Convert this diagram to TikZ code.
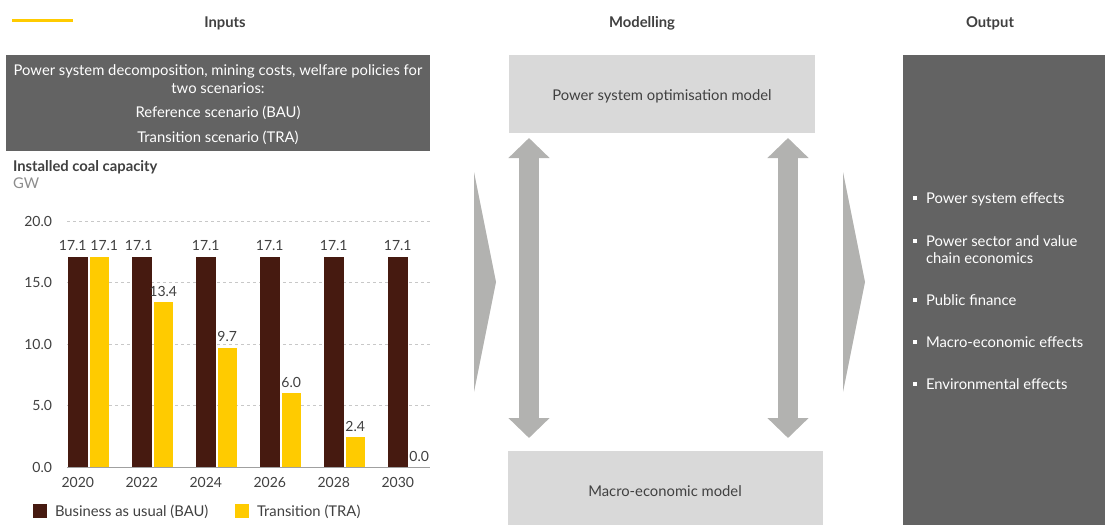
\documentclass[tikz,border=0pt]{standalone}
\usepackage{fontspec}
\setmainfont{Lato}
\usetikzlibrary{arrows.meta,calc}
\definecolor{darkbox}{HTML}{636363}
\definecolor{lightbox}{HTML}{D9D9D9}
\definecolor{arrowgrey}{HTML}{B2B2B0}
\definecolor{txt}{HTML}{404040}
\definecolor{unitc}{HTML}{8C8C8C}
\definecolor{bau}{HTML}{461A10}
\definecolor{tra}{HTML}{FFCB00}
\definecolor{gridc}{HTML}{C8C8C8}
\definecolor{axisc}{HTML}{A0A0A0}
\begin{document}
\begin{tikzpicture}[x=1pt,y=-1pt,
  every node/.style={inner sep=0pt, outer sep=0pt, font=\fontsize{14.8}{17}\selectfont},
  header/.style={anchor=base, text=txt, font=\fontsize{14.8}{17}\selectfont\bfseries},
  boxtxt/.style={anchor=base, text=white},
  outtxt/.style={anchor=base west, text=white},
  num/.style={anchor=base, text=txt, font=\fontsize{14}{16}\selectfont},
  dbl/.style={draw=arrowgrey, line width=20pt, {Triangle[width=40pt,length=20pt]}-{Triangle[width=40pt,length=20pt]}},
  chev/.style={fill=arrowgrey}]
\useasboundingbox (0,0) rectangle (1105,525);

% top line and headers
\draw[tra, line width=3pt] (12,20) -- (73,20);
\node[header] (hin) at (225,27) {Inputs};
\node[header] (hmod) at (642,27) {Modelling};
\node[header] (hout) at (990,27) {Output};

% input box
\node[fill=darkbox, minimum width=424pt, minimum height=96pt, anchor=north west] (inbox) at (6,55) {};
\node[boxtxt] (in1) at (218,75) {Power system decomposition, mining costs, welfare policies for};
\node[boxtxt] (in2) at (218,93) {two scenarios:};
\node[boxtxt] (in3) at (218,117) {Reference scenario (BAU)};
\node[boxtxt] (in4) at (218,142) {Transition scenario (TRA)};

% chart title
\node[anchor=base west, text=txt, font=\fontsize{14.8}{17}\selectfont\bfseries] (ctitle) at (13,171) {Installed coal capacity};
\node[anchor=base west, text=unitc] (cunit) at (13,188) {GW};

% grid
\foreach \v in {5,10,15,20}{
  \draw[gridc, dashed, line width=0.6pt] (67,467-\v*12.3) -- (430,467-\v*12.3);
}
\foreach \v/\l in {0/0.0,5/5.0,10/10.0,15/15.0,20/20.0}{
  \node[num, anchor=base east] at (52,467-\v*12.3+5) {\l};
}

% bars
\foreach \k/\yr/\t/\tl/\bo/\to in {0/2020/17.1/17.1/-5/5, 1/2022/13.4/13.4/-3/0, 2/2024/9.7/9.7/0/0, 3/2026/6.0/6.0/0/0, 4/2028/2.4/2.4/0/0, 5/2030/0.0/0.0/0/0}{
  \fill[bau] (68+64*\k,467) rectangle (87.5+64*\k,467-17.1*12.3);
  \fill[tra] (89.5+64*\k,467) rectangle (109+64*\k,467-\t*12.3);
  \node[num] at (77.75+64*\k+\bo,467-17.1*12.3-6) {17.1};
  \node[num] at (99.25+64*\k+\to,467-\t*12.3-6) {\tl};
  \node[num] at (77.75+64*\k,487) {\yr};
}
\draw[axisc, line width=1pt] (67,467) -- (430,467);

% legend
\fill[bau] (33,504) rectangle (47,518);
\node[anchor=base west, text=txt] (lg1) at (55,516) {Business as usual (BAU)};
\fill[tra] (235,504) rectangle (249,518);
\node[anchor=base west, text=txt] (lg2) at (257,516) {Transition (TRA)};

% chevrons
\fill[chev] (474,172) -- (496,282) -- (474,392) -- cycle;
\fill[chev] (843,172) -- (865,282) -- (843,392) -- cycle;

% model boxes
\node[fill=lightbox, minimum width=306pt, minimum height=78pt, anchor=north west] (psm) at (509,55) {};
\node[anchor=base, text=txt] (psmt) at (662,100) {Power system optimisation model};
\node[fill=lightbox, minimum width=315pt, minimum height=74pt, anchor=north west] (mem) at (508,451) {};
\node[anchor=base, text=txt] (memt) at (665,496) {Macro-economic model};

% double arrows
\draw[dbl] ($(psm.south west)+(20,5)$) -- ($(psm.south west |- mem.north)+(20,-13)$);
\draw[dbl] ($(psm.south west)+(279,5)$) -- ($(psm.south west |- mem.north)+(279,-13)$);

% output box
\node[fill=darkbox, minimum width=202pt, minimum height=470pt, anchor=north west] (outbox) at (903,55) {};
\foreach \yy in {198,241,300,342,384}{
  \fill[white] (912.5,\yy-2) rectangle (916.5,\yy+2);
}
\node[outtxt] (o1) at (926,203) {Power system effects};
\node[outtxt] (o2) at (926,246) {Power sector and value};
\node[outtxt] (o2b) at (926,263) {chain economics};
\node[outtxt] (o3) at (926,305) {Public finance};
\node[outtxt] (o4) at (926,347) {Macro-economic effects};
\node[outtxt] (o5) at (926,389) {Environmental effects};
\end{tikzpicture}
\end{document}
